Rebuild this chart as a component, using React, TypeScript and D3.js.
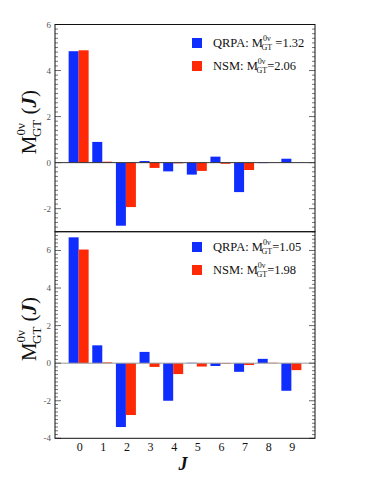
import React from 'react';
import * as d3 from 'd3';

const width = 382;
const height = 494;

const js = [0, 1, 2, 3, 4, 5, 6, 7, 8, 9];
// top panel
const qrpaTop = [4.84, 0.9, -2.74, 0.07, -0.38, -0.52, 0.26, -1.28, -0.02, 0.17];
const nsmTop = [4.88, 0.04, -1.93, -0.23, -0.03, -0.36, -0.05, -0.32, -0.01, 0.0];
// bottom panel
const qrpaBot = [6.7, 0.95, -3.4, 0.6, -2.0, 0.02, -0.15, -0.46, 0.23, -1.47];
const nsmBot = [6.05, 0.04, -2.76, -0.2, -0.58, -0.18, -0.03, -0.1, 0.02, -0.37];
const topTicks = [-2, 0, 2, 4, 6];
const botTicks = [-4, -2, 0, 2, 4, 6];
const topLegend = ['QRPA: ', ' =1.32', 'NSM: ', '=2.06'];
const botLegend = ['QRPA: ', '=1.05', 'NSM: ', '=1.98'];

const blue = '#0f2dff';
const red = '#ff2a05';
const font = "'Liberation Serif', 'DejaVu Serif', serif";

const left = 55;
const right = 315;
const x = d3.scaleLinear().domain([-1, 10]).range([left, right]);
const barW = 10;

function Panel(props: {
  y0: number; y1: number; domain: [number, number]; ticks: number[];
  qrpa: number[]; nsm: number[]; legend: string[]; zeroColor: string; legendY: number;
}) {
  const { y0, y1, domain, ticks, qrpa, nsm, legend, zeroColor, legendY } = props;
  const y = d3.scaleLinear().domain(domain).range([y1, y0]);
  const minor = d3.range(domain[0], domain[1] + 0.001, 0.2).filter(v => Math.abs(Math.round(v) - v) > 0.01 || Math.round(v) % 2 !== 0);
  const mid = (y0 + y1) / 2 - 6;
  return (
    <g>
      {js.map((j, i) => (
        <g key={j}>
          <rect x={x(j) - barW} width={barW} y={Math.min(y(qrpa[i]), y(0))} height={Math.abs(y(qrpa[i]) - y(0))} fill={blue} />
          <rect x={x(j)} width={barW} y={Math.min(y(nsm[i]), y(0))} height={Math.abs(y(nsm[i]) - y(0))} fill={red} />
        </g>
      ))}
      <line x1={left} x2={right} y1={y(0)} y2={y(0)} stroke={zeroColor} strokeWidth={1} />
      {minor.map((v, i) => (
        <g key={'m' + i} stroke="#555" strokeWidth={0.8}>
          <line x1={left} x2={left + 3} y1={y(v)} y2={y(v)} />
          <line x1={right} x2={right - 3} y1={y(v)} y2={y(v)} />
        </g>
      ))}
      {ticks.map(t => (
        <g key={t}>
          <line x1={left} x2={left + 6} y1={y(t)} y2={y(t)} stroke="#444" strokeWidth={0.8} />
          <line x1={right} x2={right - 6} y1={y(t)} y2={y(t)} stroke="#444" strokeWidth={0.8} />
          <text x={left - 4} y={y(t) + 3} textAnchor="end" fontSize={9} fill="#555" fontFamily={font}>{t}</text>
        </g>
      ))}
      <rect x={left} y={y0} width={right - left} height={y1 - y0} fill="none" stroke="#111" strokeWidth={1} />
      {/* legend */}
      {[0, 1].map(k => (
        <g key={k}>
          <rect x={192} y={legendY + k * 23} width={10} height={10} fill={k === 0 ? blue : red} />
          <text x={213} y={legendY + k * 23 + 9} fontSize={12.5} fontFamily={font} fill="#111">
            {legend[k * 2]}M
            <tspan fontSize={8} dy={-6}>0ν</tspan>
            <tspan fontSize={8} dx={-9} dy={9}>GT</tspan>
            <tspan dy={-3}>{legend[k * 2 + 1]}</tspan>
          </text>
        </g>
      ))}
      {/* y title */}
      <text transform={`translate(36,${mid}) rotate(-90)`} textAnchor="middle" fontSize={21} fontFamily={font} fill="#111">
        M
        <tspan fontSize={13} dy={-11}>0ν</tspan>
        <tspan fontSize={13} dx={-14} dy={16}>GT</tspan>
        <tspan dy={-5}> (</tspan>
        <tspan fontWeight="bold" fontStyle="italic">J</tspan>
        <tspan>)</tspan>
      </text>
    </g>
  );
}

export default function App() {
  return (
    <div style={{ position: 'absolute', left: 0, top: 0 }}>
      <svg width={width} height={height} style={{ display: 'block', background: '#fff' }}>
        <Panel y0={24.5} y1={231.7} domain={[-3, 6]} ticks={topTicks} qrpa={qrpaTop} nsm={nsmTop}
          legend={topLegend} zeroColor="#333" legendY={38} />
        <Panel y0={231.7} y1={438.3} domain={[-4, 7]} ticks={botTicks} qrpa={qrpaBot} nsm={nsmBot}
          legend={botLegend} zeroColor="#999" legendY={242} />
        {js.map(j => (
          <text key={j} x={x(j) + 1} y={451} textAnchor="middle" fontSize={12} fontFamily={font} fill="#111">{j}</text>
        ))}
        <text x={183} y={470} textAnchor="middle" fontSize={18} fontWeight="bold" fontStyle="italic" fontFamily={font} fill="#111">J</text>
      </svg>
    </div>
  );
}
